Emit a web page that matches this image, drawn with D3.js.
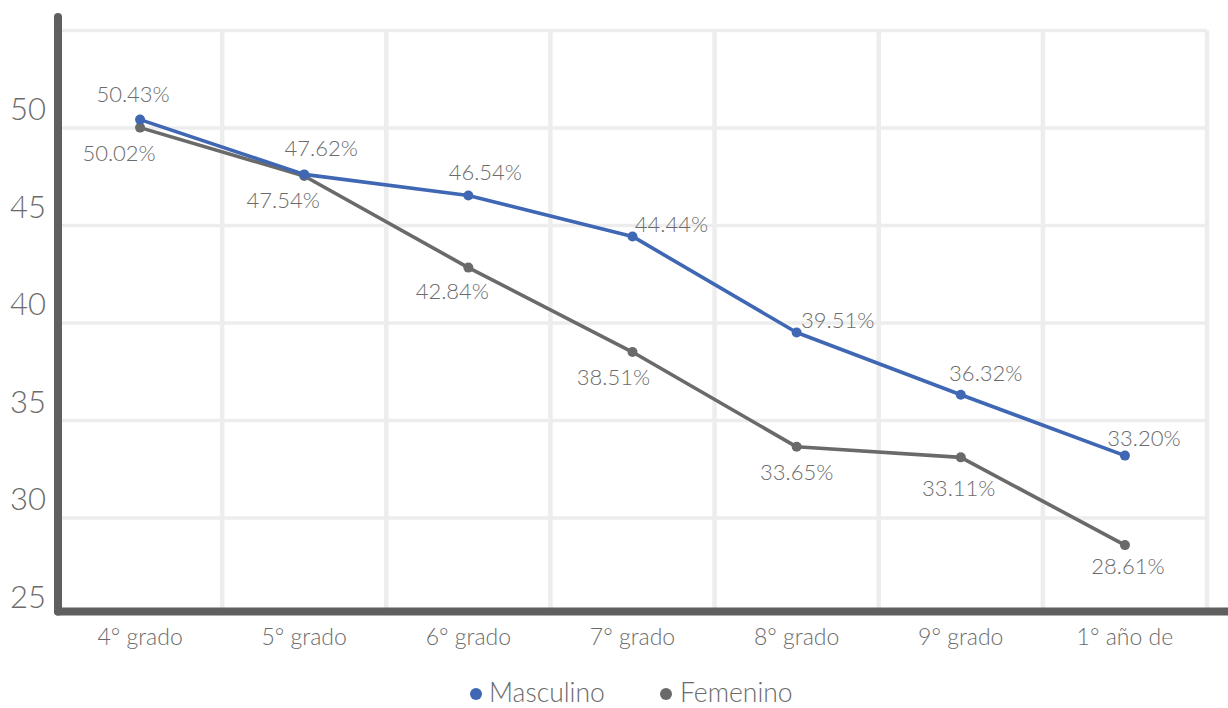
<!DOCTYPE html>
<html>
<head>
<meta charset="utf-8">
<script src="https://cdn.jsdelivr.net/npm/d3@7"></script>
<style>
  html, body { margin: 0; padding: 0; background: #ffffff; }
  svg { display: block; font-family: Lato, "Open Sans", sans-serif; }
</style>
</head>
<body>
<svg id="chart" width="1228" height="708"></svg>
<script>
// ---- data ----
const categories = ["4° grado", "5° grado", "6° grado", "7° grado", "8° grado", "9° grado", "1° año de"];
const masculino = [50.43, 47.62, 46.54, 44.44, 39.51, 36.32, 33.20];
const femenino  = [50.02, 47.54, 42.84, 38.51, 33.65, 33.11, 28.61];
const seriesNames = ["Masculino", "Femenino"];
const yTicks = [25, 30, 35, 40, 45, 50];
const yDomain = [25, 55];

// ---- layout / style ----
const W = 1228, H = 708;
const plot = { left: 58, right: 1207, top: 30.5, bottom: 615.5 };
const colors = { Masculino: "#3f67b3", Femenino: "#6a6a6b" };
const textColor = "#6b6b6b";
const gridColor = "#ededed";
const axisColor = "#5f5f5f";
// label nudges (dx, dy) relative to each point
const maleNudge = [[-7,-25],[17,-26],[17,-23],[39,-12],[41,-12],[25,-21],[19,-17]];
const femNudge  = [[-21,26],[-21,24],[-16,24],[-19,25],[0,25],[-2,31],[3,21]];

const svg = d3.select("#chart");

const x = d3.scaleBand().domain(categories).range([plot.left, plot.right]).paddingInner(0).paddingOuter(0);
const xc = d => x(d) + x.bandwidth() / 2;
const y = d3.scaleLinear().domain(yDomain).range([plot.bottom, plot.top]);

// grid: horizontal
const gridTicks = d3.range(yDomain[0] + 5, yDomain[1] + 0.001, 5);
svg.append("g").selectAll("line").data(gridTicks).join("line")
  .attr("x1", plot.left).attr("x2", plot.right)
  .attr("y1", d => y(d)).attr("y2", d => y(d))
  .attr("stroke", gridColor).attr("stroke-width", 3.5);

// grid: vertical (band boundaries)
const vBounds = categories.map(c => x(c)).concat([x(categories[categories.length-1]) + x.bandwidth()]);
svg.append("g").selectAll("line").data(vBounds).join("line")
  .attr("x1", d => d).attr("x2", d => d)
  .attr("y1", y(yDomain[1])).attr("y2", y(yDomain[0]))
  .attr("stroke", gridColor).attr("stroke-width", 4.5);

// axes lines
svg.append("line")
  .attr("x1", plot.left).attr("x2", plot.left)
  .attr("y1", 17).attr("y2", y(yDomain[0]) - 4)
  .attr("stroke", axisColor).attr("stroke-width", 8).attr("stroke-linecap", "round");
svg.append("line")
  .attr("x1", plot.left).attr("x2", W)
  .attr("y1", y(yDomain[0]) - 4).attr("y2", y(yDomain[0]) - 4)
  .attr("stroke", axisColor).attr("stroke-width", 8).attr("stroke-linecap", "round");

// y tick labels
svg.append("g").selectAll("text").data(yTicks).join("text")
  .attr("x", 46).attr("y", d => y(d) - 8)
  .attr("text-anchor", "end")
  .attr("font-size", 31).attr("font-weight", 300)
  .attr("fill", textColor)
  .text(d => d);

// x labels
svg.append("g").selectAll("text").data(categories).join("text")
  .attr("x", d => xc(d)).attr("y", 645)
  .attr("text-anchor", "middle")
  .attr("font-size", 23).attr("font-weight", 300)
  .attr("fill", textColor)
  .text(d => d);

// series
const series = [
  { name: seriesNames[0], values: masculino, nudge: maleNudge },
  { name: seriesNames[1], values: femenino, nudge: femNudge }
];
const line = d3.line().x((d, i) => xc(categories[i])).y(d => y(d));

// draw female first so male is on top
[series[1], series[0]].forEach(s => {
  const g = svg.append("g");
  g.append("path").datum(s.values)
    .attr("d", line)
    .attr("fill", "none")
    .attr("stroke", colors[s.name])
    .attr("stroke-width", 3.6)
    .attr("stroke-linejoin", "round");
  g.selectAll("circle").data(s.values).join("circle")
    .attr("cx", (d, i) => xc(categories[i]))
    .attr("cy", d => y(d))
    .attr("r", 5)
    .attr("fill", colors[s.name]);
});
series.forEach(s => {
  svg.append("g").selectAll("text").data(s.values).join("text")
    .attr("x", (d, i) => xc(categories[i]) + s.nudge[i][0])
    .attr("y", (d, i) => y(d) + s.nudge[i][1])
    .attr("dy", "0.35em")
    .attr("text-anchor", "middle")
    .attr("font-size", 22).attr("font-weight", 300)
    .attr("fill", textColor)
    .text(d => d.toFixed(2) + "%");
});

// legend
const legendItems = [
  { name: seriesNames[0], cx: 476, tx: 489 },
  { name: seriesNames[1], cx: 666, tx: 680 }
];
const lg = svg.append("g");
legendItems.forEach(it => {
  lg.append("circle").attr("cx", it.cx).attr("cy", 694).attr("r", 6).attr("fill", colors[it.name]);
  lg.append("text").attr("x", it.tx).attr("y", 702)
    .attr("font-size", 26.5).attr("font-weight", 300)
    .attr("fill", textColor).text(it.name);
});
</script>
</body>
</html>
